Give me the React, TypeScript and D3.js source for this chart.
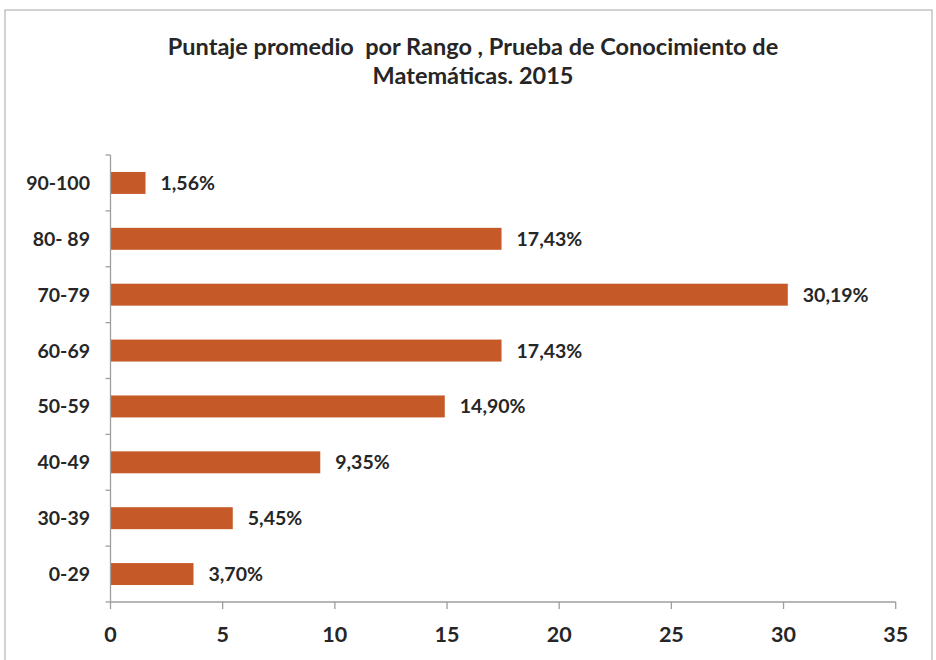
import React from "react";
import * as d3 from "d3";

const categories = ["90-100", "80- 89", "70-79", "60-69", "50-59", "40-49", "30-39", "0-29"];
const values = [1.56, 17.43, 30.19, 17.43, 14.9, 9.35, 5.45, 3.7];
const valueLabels = ["1,56%", "17,43%", "30,19%", "17,43%", "14,90%", "9,35%", "5,45%", "3,70%"];
const xTicks = [0, 5, 10, 15, 20, 25, 30, 35];
const titleLines = ["Puntaje promedio  por Rango , Prueba de Conocimiento de", "Matemáticas. 2015"];

const W = 936, H = 660;
const FONT = "Lato, 'Open Sans', sans-serif";
const TEXT = "#262626";
const AXIS = "#9e9e9e";
const BAR = "#C55A28";

export default function App() {
  const x = d3.scaleLinear().domain([0, 35]).range([110.5, 895.7]);
  const y = d3.scaleBand<string>().domain(categories).range([155, 602]).paddingInner(0.607).paddingOuter(0.3035);
  const yTickPos = d3.range(categories.length + 1).map((i) => 155 + i * ((602 - 155) / categories.length));
  return (
    <svg width={W} height={H} style={{ position: "absolute", left: 0, top: 0, background: "#fff" }}>
      <rect x={5} y={10} width={927} height={660} fill="#fff" stroke="#a6a6a6" strokeWidth={1} />
      {titleLines.map((t, i) => (
        <text key={i} x={473} y={55 + i * 29} textAnchor="middle" fontFamily={FONT} fontWeight="bold" fontSize={23.5} fill={TEXT} style={{ whiteSpace: "pre" }}>
          {t}
        </text>
      ))}
      {categories.map((c, i) => (
        <g key={c}>
          <rect x={x(0)} y={y(c)!} width={x(values[i]) - x(0)} height={y.bandwidth()} fill={BAR} />
          <text x={x(values[i]) + 15} y={y(c)! + y.bandwidth() / 2} dy="0.36em" fontFamily={FONT} fontWeight="bold" fontSize={19.5} fill={TEXT}>
            {valueLabels[i]}
          </text>
          <text x={90} y={y(c)! + y.bandwidth() / 2} dy="0.36em" textAnchor="end" fontFamily={FONT} fontWeight="bold" fontSize={19.5} fill={TEXT} style={{ whiteSpace: "pre" }}>
            {c}
          </text>
        </g>
      ))}
      <line x1={x(0)} x2={x(0)} y1={155} y2={602} stroke={AXIS} strokeWidth={1.3} />
      {yTickPos.map((p, i) => (
        <line key={i} x1={x(0) - 5} x2={x(0)} y1={p} y2={p} stroke={AXIS} strokeWidth={1.3} />
      ))}
      <line x1={x(0)} x2={x(35)} y1={602} y2={602} stroke={AXIS} strokeWidth={1.3} />
      {xTicks.map((t) => (
        <g key={t}>
          <line x1={x(t)} x2={x(t)} y1={602} y2={609} stroke={AXIS} strokeWidth={1.3} />
          <text x={x(t)} y={641.5} textAnchor="middle" fontFamily={FONT} fontWeight="bold" fontSize={21.5} fill={TEXT}>
            {t}
          </text>
        </g>
      ))}
    </svg>
  );
}
